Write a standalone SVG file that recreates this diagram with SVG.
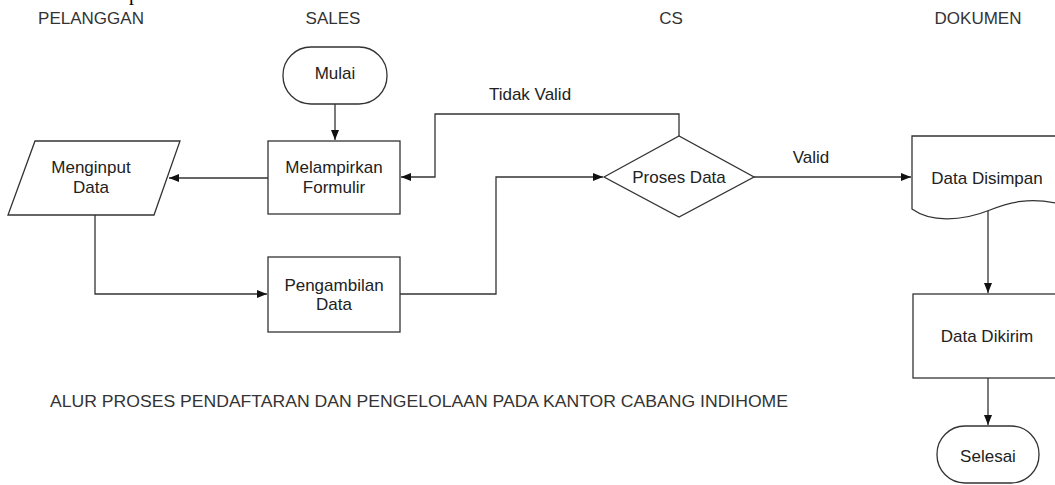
<svg xmlns="http://www.w3.org/2000/svg" width="1055" height="485" viewBox="0 0 1055 485">
<defs>
<marker id="ah" viewBox="0 0 10 10" refX="10" refY="5" markerWidth="10" markerHeight="10" markerUnits="userSpaceOnUse" orient="auto">
<path d="M0,1 L10,5 L0,9 Z" fill="#111"/>
</marker>
<style>
.s{fill:#fff;stroke:#333;stroke-width:1.3}
.t{font-family:"Liberation Sans",Arial,sans-serif;font-size:17px;fill:#222;text-anchor:middle}
.h{font-family:"Liberation Sans",Arial,sans-serif;font-size:17px;fill:#333;text-anchor:middle}
.c{fill:none;stroke:#333;stroke-width:1.3}
</style>
</defs>
<rect width="1055" height="485" fill="#fff"/>
<text x="129" y="0" font-family="Liberation Serif,serif" font-size="20" fill="#000">p</text>
<g id="headers">
<text class="h" x="91" y="24">PELANGGAN</text>
<text class="h" x="333" y="24">SALES</text>
<text class="h" x="671" y="24">CS</text>
<text class="h" x="978" y="24">DOKUMEN</text>
</g>
<g id="connectors">
<path class="c" d="M335,104 V140" marker-end="url(#ah)"/>
<path class="c" d="M268,178 H169" marker-end="url(#ah)"/>
<path class="c" d="M95,215 V294 H267" marker-end="url(#ah)"/>
<path class="c" d="M400,294 H496 V177 H603" marker-end="url(#ah)"/>
<path class="c" d="M679,136 V114 H435 V177 H401" marker-end="url(#ah)"/>
<path class="c" d="M754,177 H911" marker-end="url(#ah)"/>
<path class="c" d="M988,211 V293" marker-end="url(#ah)"/>
<path class="c" d="M988,378 V425" marker-end="url(#ah)"/>
<text class="t" x="530" y="100">Tidak Valid</text>
<text class="t" x="811" y="163">Valid</text>
</g>
<g id="mulai">
<rect class="s" x="283" y="47" width="104" height="57" rx="28"/>
<text class="t" x="335" y="79">Mulai</text>
</g>
<g id="melampirkan">
<rect class="s" x="268" y="141" width="132" height="73"/>
<text class="t" x="334" y="173">Melampirkan</text>
<text class="t" x="334" y="193">Formulir</text>
</g>
<g id="menginput">
<polygon class="s" points="35,141 180,141 154,215 8,215"/>
<text class="t" x="91" y="173">Menginput</text>
<text class="t" x="91" y="193">Data</text>
</g>
<g id="pengambilan">
<rect class="s" x="268" y="257" width="132" height="75"/>
<text class="t" x="334" y="291">Pengambilan</text>
<text class="t" x="334" y="310">Data</text>
</g>
<g id="proses">
<polygon class="s" points="604,177 679,136 754,177 679,217"/>
<text class="t" x="679" y="183">Proses Data</text>
</g>
<g id="disimpan">
<path class="s" d="M1060,136 H912 V209 C930,222 960,222 990,210 C1010,202 1030,197 1060,204"/>
<text class="t" x="987" y="184">Data Disimpan</text>
</g>
<g id="dikirim">
<rect class="s" x="913" y="294" width="150" height="84"/>
<text class="t" x="987" y="342">Data Dikirim</text>
</g>
<g id="selesai">
<rect class="s" x="937" y="426" width="102" height="57" rx="28"/>
<text class="t" x="988" y="462">Selesai</text>
</g>
<text id="caption" x="50" y="407" font-family="Liberation Sans,Arial,sans-serif" font-size="16" fill="#333" textLength="738" lengthAdjust="spacingAndGlyphs">ALUR PROSES PENDAFTARAN DAN PENGELOLAAN PADA KANTOR CABANG INDIHOME</text>
</svg>
